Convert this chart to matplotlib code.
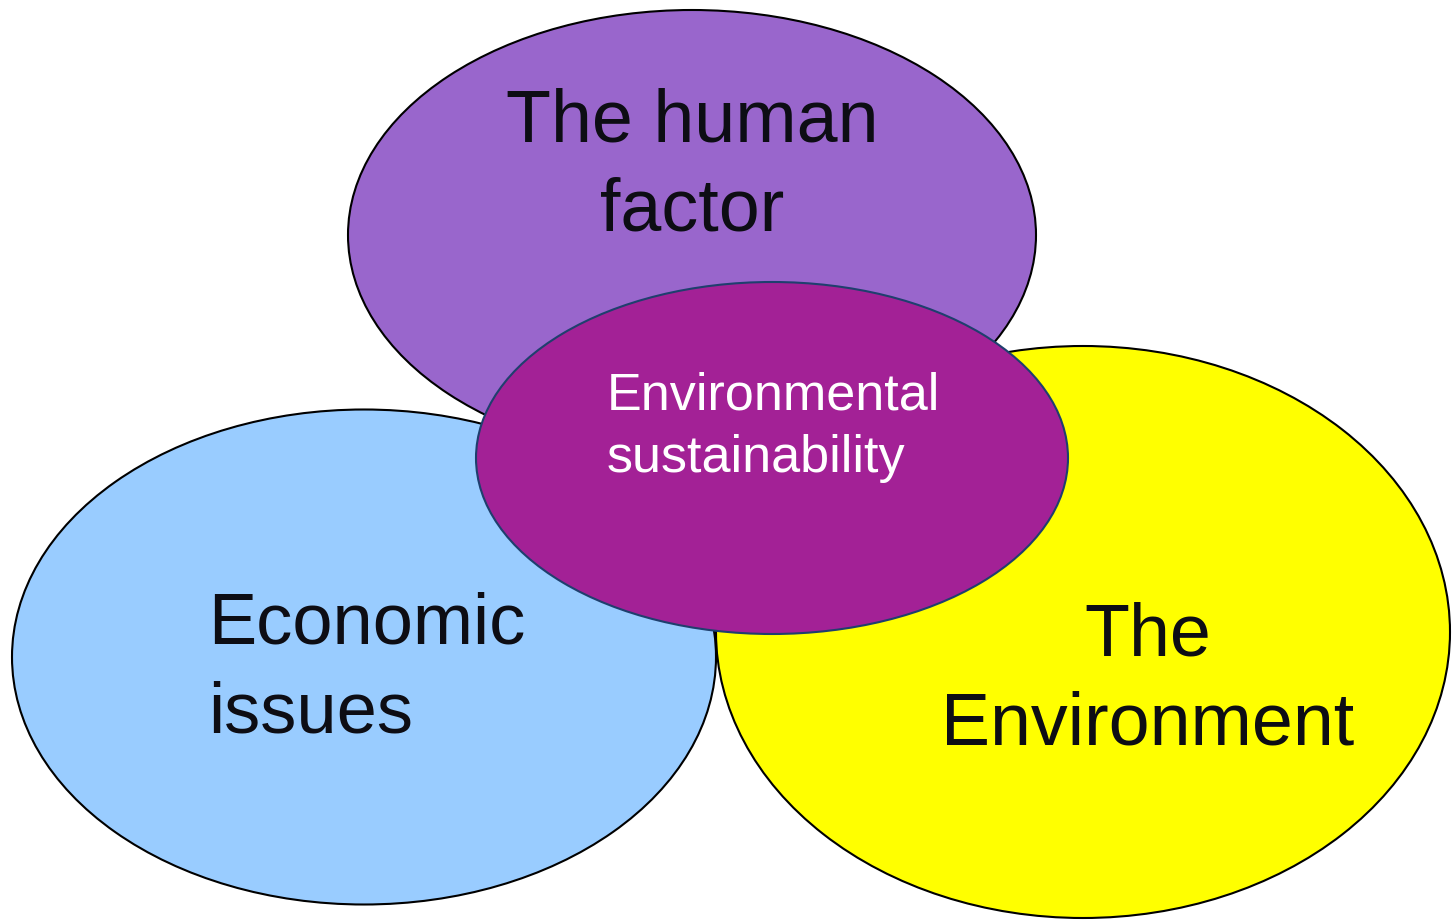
import matplotlib.pyplot as plt
from matplotlib.patches import Ellipse

# circle labels, one list of lines per circle
labels = {
    "human": ["The human", "factor"],
    "economic": ["Economic", "issues"],
    "environment": ["The", "Environment"],
    "core": ["Environmental", "sustainability"],
}
fills = {
    "human": "#9966CC",
    "economic": "#99CCFF",
    "environment": "#FFFF00",
    "core": "#A32196",
}

# layout in pixel coordinates (y grows downwards)
shapes = {
    "human": dict(xy=(692, 235), w=688, h=450, ec="black"),
    "economic": dict(xy=(364, 657), w=704, h=495, ec="black"),
    "environment": dict(xy=(1083, 632), w=734, h=572, ec="black"),
    "core": dict(xy=(772, 458), w=592, h=352, ec="#1F3F6E"),
}
text_pos = {
    "human": dict(x=692, y=[142, 230], ha="center", size=53, color="#0D0D14"),
    "economic": dict(x=208, y=[643, 732], ha="left", size=52, color="#0D0D14"),
    "environment": dict(x=1148, y=[655, 744], ha="center", size=53, color="#0D0D14"),
    "core": dict(x=607, y=[409, 472], ha="left", size=37.5, color="white"),
}

fig = plt.figure(figsize=(14.52, 9.21), dpi=100)
ax = fig.add_axes([0, 0, 1, 1])
ax.set_xlim(0, 1452)
ax.set_ylim(921, 0)
ax.axis("off")

for key in ["human", "economic", "environment", "core"]:
    s = shapes[key]
    ax.add_patch(Ellipse(s["xy"], s["w"], s["h"], facecolor=fills[key],
                         edgecolor=s["ec"], lw=1.5))
    t = text_pos[key]
    for line, y in zip(labels[key], t["y"]):
        ax.text(t["x"], y, line, ha=t["ha"], va="baseline", fontsize=t["size"],
                color=t["color"], family="Liberation Sans")

plt.savefig("out.png", dpi=100)
